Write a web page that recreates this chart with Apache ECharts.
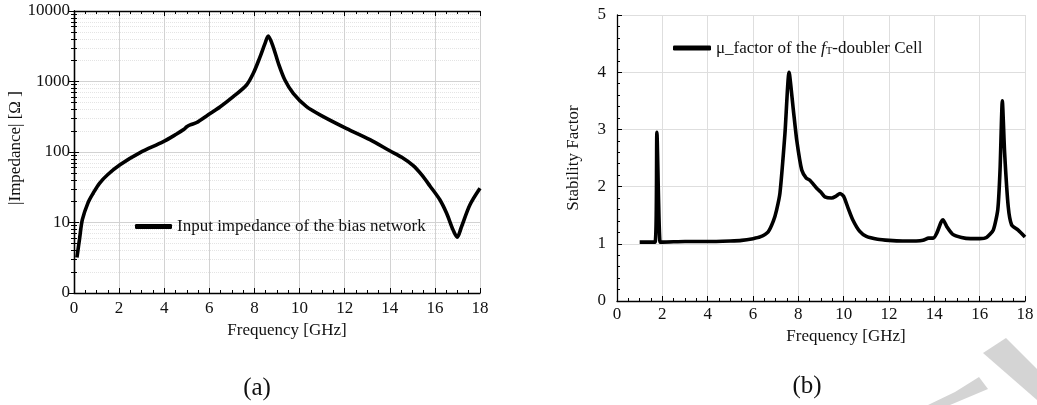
<!DOCTYPE html>
<html>
<head>
<meta charset="utf-8">
<script src="https://cdn.jsdelivr.net/npm/echarts@6/dist/echarts.min.js"></script>
<style>
html,body{margin:0;padding:0;background:#fff;}
#c{width:1037px;height:405px;}
</style>
</head>
<body>
<div id="c"></div>
<script>
// ---- Panel (a): input impedance of the bias network ----
var freqA = [0.13, 0.25, 0.37, 0.62, 0.85, 1.13, 1.5, 2.04, 2.93, 3.96, 4.55, 4.86, 5.0, 5.15, 5.44, 5.88, 6.47, 7.06, 7.65, 7.95, 8.24, 8.47, 8.61, 8.83, 9.06, 9.35, 9.72, 10.31, 11.05, 12.09, 13.12, 14.0, 14.53, 15.04, 15.4, 15.78, 16.22, 16.52, 16.81, 16.99, 17.18, 17.55, 18.0];
var impedance = [3.2, 6, 11, 19, 26, 36, 48, 66, 98, 140, 180, 208, 228, 242, 262, 325, 435, 609, 892, 1306, 2200, 3470, 4420, 3110, 1815, 1050, 680, 440, 318, 215, 150, 104, 84, 64, 48, 33, 21, 13.5, 7.8, 6.2, 8.7, 17.7, 30.5];
var yTickValuesA = [1, 10, 100, 1000, 10000];
var yTickLabelsA = ['0', '10', '100', '1000', '10000'];
var seriesNameA = 'Input impedance of the bias network';

// ---- Panel (b): stability factor ----
var freqB = [1.0, 1.68, 1.76, 1.9, 2.0, 3.0, 4.0, 5.0, 5.5, 6.0, 6.31, 6.67, 6.9, 7.04, 7.19, 7.41, 7.59, 7.78, 7.93, 8.15, 8.35, 8.51, 8.81, 9.0, 9.17, 9.47, 9.65, 9.84, 10.0, 10.2, 10.4, 10.7, 11.0, 11.5, 12.0, 12.6, 13.2, 13.5, 13.75, 13.95, 14.1, 14.3, 14.38, 14.55, 14.8, 15.2, 15.6, 16.0, 16.3, 16.6, 16.8, 16.9, 17.0, 17.1, 17.26, 17.41, 17.7, 18.0];
var stability = [1.03, 1.03, 2.95, 1.03, 1.03, 1.04, 1.04, 1.05, 1.06, 1.09, 1.12, 1.21, 1.4, 1.59, 1.89, 2.93, 4.0, 3.34, 2.81, 2.29, 2.15, 2.11, 1.97, 1.9, 1.82, 1.8, 1.83, 1.88, 1.83, 1.62, 1.42, 1.22, 1.13, 1.08, 1.06, 1.05, 1.05, 1.06, 1.1, 1.1, 1.18, 1.38, 1.42, 1.3, 1.17, 1.11, 1.09, 1.09, 1.11, 1.24, 1.6, 2.3, 3.5, 2.6, 1.65, 1.33, 1.24, 1.12];
var seriesNameB = 'μ_factor of the fT-doubler Cell';

var xTickLabels = ['0','2','4','6','8','10','12','14','16','18'];
var panelLabels = ['(a)', '(b)'];

function zip(a, b) { return a.map(function (v, i) { return [v, b[i]]; }); }

var FONT = 'Liberation Serif';
var txt = '#111';

var chart = echarts.init(document.getElementById('c'), null, {renderer: 'canvas'});
var option = {
  animation: false,
  backgroundColor: '#fff',
  grid: [
    {left: 74, top: 11, width: 406, height: 282, outerBoundsMode: 'none', containLabel: false},
    {left: 617, top: 15, width: 408, height: 286, outerBoundsMode: 'none', containLabel: false}
  ],
  legend: [
    {
      data: [seriesNameA], left: 130, top: 213, icon: 'roundRect',
      itemWidth: 37, itemHeight: 5, itemGap: 4,
      textStyle: {fontFamily: FONT, fontSize: 17, color: txt}
    },
    {
      data: [seriesNameB], left: 668, top: 35, icon: 'roundRect',
      itemWidth: 38, itemHeight: 5,
      formatter: function () { return '{n|μ_factor of the }{i|f}{s|T}{n|-doubler Cell}'; },
      textStyle: {
        fontFamily: FONT, fontSize: 17, color: txt,
        rich: {
          n: {fontFamily: FONT, fontSize: 17, color: txt, lineHeight: 18, verticalAlign: 'bottom'},
          i: {fontFamily: FONT, fontSize: 17, color: txt, fontStyle: 'italic', lineHeight: 18, verticalAlign: 'bottom'},
          s: {fontFamily: FONT, fontSize: 11, color: txt, lineHeight: 18, verticalAlign: 'bottom'}
        }
      }
    }
  ],
  xAxis: [
    {
      gridIndex: 0, type: 'value', min: 0, max: 18, interval: 2,
      name: 'Frequency [GHz]', nameLocation: 'middle', nameGap: 25,
      nameTextStyle: {fontFamily: FONT, fontSize: 17, color: txt, padding: [0,0,0,20]},
      axisLine: {lineStyle: {color: '#000', width: 1.3}},
      axisTick: {inside: true, length: 5, lineStyle: {color: '#000'}},
      minorTick: {show: true, splitNumber: 4, length: 3, lineStyle: {color: '#000'}},
      axisLabel: {fontFamily: FONT, fontSize: 17, color: txt, margin: 7,
        formatter: function (v) { return xTickLabels[Math.round(v / 2)]; }},
      splitLine: {show: true, lineStyle: {color: '#d2d2d2', width: 1}}
    },
    {
      gridIndex: 0, type: 'value', min: 0, max: 18, interval: 2, position: 'top',
      axisLine: {lineStyle: {color: '#000', width: 1.3}},
      axisTick: {inside: true, length: 5, lineStyle: {color: '#000'}},
      minorTick: {show: true, splitNumber: 4, length: 3, lineStyle: {color: '#000'}},
      axisLabel: {show: false}, splitLine: {show: false}
    },
    {
      gridIndex: 1, type: 'value', min: 0, max: 18, interval: 2,
      name: 'Frequency [GHz]', nameLocation: 'middle', nameGap: 23,
      nameTextStyle: {fontFamily: FONT, fontSize: 17, color: txt, padding: [0,0,0,50]},
      axisLine: {lineStyle: {color: '#000', width: 1.3}},
      axisTick: {inside: true, length: 5, lineStyle: {color: '#000'}},
      minorTick: {show: true, splitNumber: 4, length: 3, lineStyle: {color: '#000'}},
      axisLabel: {fontFamily: FONT, fontSize: 17, color: txt, margin: 5,
        formatter: function (v) { return xTickLabels[Math.round(v / 2)]; }},
      splitLine: {show: true, lineStyle: {color: '#dedede', width: 1}}
    }
  ],
  yAxis: [
    {
      gridIndex: 0, type: 'log', logBase: 10, min: 1, max: 10000,
      name: '|Impedance| [Ω ]', nameLocation: 'middle', nameGap: 48,
      nameTextStyle: {fontFamily: FONT, fontSize: 17, color: txt, padding: [0,0,0,8]},
      axisLine: {lineStyle: {color: '#000', width: 1.3}},
      axisTick: {inside: true, length: 5, lineStyle: {color: '#000'}},
      minorTick: {show: true, splitNumber: 9, length: 3, lineStyle: {color: '#000'}},
      minorSplitLine: {show: true, lineStyle: {color: '#e4e4e4', type: 'dotted', width: 1}},
      axisLabel: {fontFamily: FONT, fontSize: 17, color: txt, margin: 4,
        formatter: function (v) {
          var i = yTickValuesA.indexOf(Math.round(v));
          return i >= 0 ? yTickLabelsA[i] : '';
        }},
      splitLine: {show: true, lineStyle: {color: '#d2d2d2', width: 1}}
    },
    {
      gridIndex: 0, type: 'log', logBase: 10, min: 1, max: 10000, position: 'right',
      axisLine: {lineStyle: {color: '#000', width: 1.3}},
      axisTick: {inside: true, length: 5, lineStyle: {color: '#000'}},
      minorTick: {show: true, splitNumber: 9, length: 3, lineStyle: {color: '#000'}},
      axisLabel: {show: false}, splitLine: {show: false}
    },
    {
      gridIndex: 1, type: 'value', min: 0, max: 5, interval: 1,
      name: 'Stability Factor', nameLocation: 'middle', nameGap: 35,
      nameTextStyle: {fontFamily: FONT, fontSize: 17, color: txt},
      axisLine: {lineStyle: {color: '#000', width: 1.3}},
      axisTick: {inside: true, length: 5, lineStyle: {color: '#000'}},
      minorTick: {show: true, splitNumber: 5, length: 3, lineStyle: {color: '#000'}},
      axisLabel: {fontFamily: FONT, fontSize: 17, color: txt, margin: 11},
      splitLine: {show: true, lineStyle: {color: '#dedede', width: 1}}
    }
  ],
  series: [
    {
      name: seriesNameA, type: 'line', xAxisIndex: 0, yAxisIndex: 0,
      data: zip(freqA, impedance), smooth: 0.3, showSymbol: false,
      lineStyle: {color: '#000', width: 3.6}, itemStyle: {color: '#000'}
    },
    {
      name: seriesNameB, type: 'line', xAxisIndex: 2, yAxisIndex: 2,
      data: zip(freqB, stability), smooth: 0.2, showSymbol: false,
      lineStyle: {color: '#000', width: 3.6}, itemStyle: {color: '#000'}
    }
  ],
  graphic: [
    {type: 'text', x: 257, y: 388, style: {text: panelLabels[0], font: '25px "Liberation Serif"', fill: txt, align: 'center', verticalAlign: 'middle'}},
    {type: 'text', x: 807, y: 386, style: {text: panelLabels[1], font: '25px "Liberation Serif"', fill: txt, align: 'center', verticalAlign: 'middle'}},
    {type: 'polygon', silent: true, z: -1, shape: {points: [[983,353],[1006,338],[1037,369],[1037,400]]}, style: {fill: '#d4d4d4'}},
    {type: 'polygon', silent: true, z: -1, shape: {points: [[928,405],[950,405],[988,389],[979,377],[955,392]]}, style: {fill: '#d4d4d4'}}
  ]
};
chart.setOption(option);
</script>
</body>
</html>
